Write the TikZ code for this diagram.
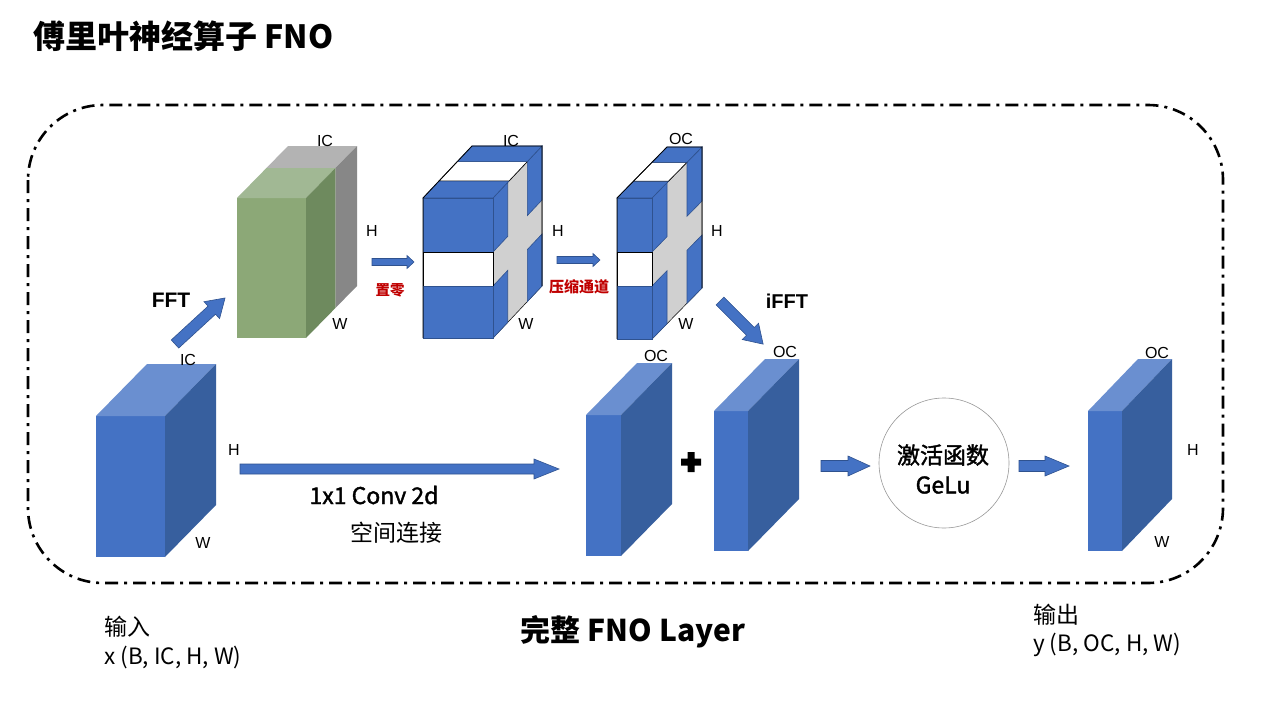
\documentclass[tikz,border=0pt]{standalone}
\usepackage{fontspec}
\setmainfont{Liberation Sans}
\newfontfamily\cjk{Noto Sans CJK SC}
\newfontfamily\cjkmed[FakeBold=1.6]{Noto Sans CJK SC}
\definecolor{bfront}{HTML}{4472C4}
\definecolor{btop}{HTML}{6A8FD0}
\definecolor{bside}{HTML}{375F9E}
\definecolor{bline}{HTML}{2F528F}
\definecolor{gfront}{HTML}{8CA877}
\definecolor{gtop}{HTML}{A1B894}
\definecolor{gside}{HTML}{6E8A5E}
\definecolor{greytop}{HTML}{B3B3B3}
\definecolor{greyside}{HTML}{878787}
\definecolor{crossgrey}{HTML}{D0D0D0}
\definecolor{redlab}{HTML}{C00000}
\tikzset{
  bblk/.style={fill=bfront,draw=bline,line width=0.6pt},
  wblk/.style={fill=white,draw=black,line width=0.6pt},
  gblk/.style={fill=crossgrey,draw=black,line width=0.5pt},
  arrowstyle/.style={fill=bfront,draw=bline,line width=0.6pt},
  dimlab/.style={font=\fontsize{16}{16}\selectfont,inner sep=0pt},
  redtag/.style={font=\cjk\bfseries\fontsize{14.5}{14.5}\selectfont,text=redlab,inner sep=0pt},
  opname/.style={font=\bfseries\fontsize{21}{21}\selectfont,inner sep=0pt},
  cjktext/.style={font=\cjk\fontsize{23}{23}\selectfont,inner sep=0pt},
  dimtext/.style={font=\cjk\fontsize{22.5}{22.5}\selectfont,inner sep=0pt},
}
% parallelogram on the side face: x1 dx dy t1 t2 ya yb style
\newcommand\sidepar[8]{%
  \filldraw[#8] ({#1+#4*#2},{#6+#4*#3}) -- ({#1+#5*#2},{#6+#5*#3}) --
    ({#1+#5*#2},{#7+#5*#3}) -- ({#1+#4*#2},{#7+#4*#3}) -- cycle;}
% parallelogram on the top face: x0 x1 y0 dx dy t1 t2 style
\newcommand\toppar[8]{%
  \filldraw[#8] ({#1+#6*#4},{#3+#6*#5}) -- ({#2+#6*#4},{#3+#6*#5}) --
    ({#2+#7*#4},{#3+#7*#5}) -- ({#1+#7*#4},{#3+#7*#5}) -- cycle;}
% solid blue cube: x0 ytop x1 ybot dx dy
\newcommand\solidcube[6]{%
  \fill[bfront] (#1,#2) rectangle (#3,#4);
  \fill[btop] (#1,#2) -- (#3,#2) -- ({#3+#5},{#2+#6}) -- ({#1+#5},{#2+#6}) -- cycle;
  \fill[bside] (#3,#2) -- ({#3+#5},{#2+#6}) -- ({#3+#5},{#4+#6}) -- (#3,#4) -- cycle;}
% cube with zeroed cross: x0 ytop x1 ybot dx dy gaptop gapbot
\newcommand\crosscube[8]{%
  \sidepar{#3}{#5}{#6}{0}{1}{#2}{#4}{gblk}
  \sidepar{#3}{#5}{#6}{0}{0.3}{#2}{#7}{bblk}
  \sidepar{#3}{#5}{#6}{0}{0.3}{#8}{#4}{bblk}
  \sidepar{#3}{#5}{#6}{0.7}{1}{#2}{#7}{bblk}
  \sidepar{#3}{#5}{#6}{0.7}{1}{#8}{#4}{bblk}
  \toppar{#1}{#3}{#2}{#5}{#6}{0}{0.33}{bblk}
  \toppar{#1}{#3}{#2}{#5}{#6}{0.33}{0.7}{wblk}
  \toppar{#1}{#3}{#2}{#5}{#6}{0.7}{1}{bblk}
  \filldraw[bblk] (#1,#2) rectangle (#3,#7);
  \filldraw[wblk] (#1,#7) rectangle (#3,#8);
  \filldraw[bblk] (#1,#8) rectangle (#3,#4);
  \draw[black,line width=0.8pt] (#1,#4) -- (#1,#2) -- ({#1+#5},{#2+#6}) --
    ({#3+#5},{#2+#6}) -- ({#3+#5},{#4+#6});}
% block arrow: x y (tail centre) angle length shafthalf headhalf headlength
\newcommand\blockarrow[7]{%
  \begin{scope}[shift={(#1,#2)},rotate=#3]
    \filldraw[arrowstyle] (0,-#5) -- ({#4-#7},-#5) -- ({#4-#7},-#6) -- (#4,0) --
      ({#4-#7},#6) -- ({#4-#7},#5) -- (0,#5) -- cycle;
  \end{scope}}
\begin{document}
\begin{tikzpicture}[x=1pt,y=-1pt]
\useasboundingbox (0,0) rectangle (1280,720);
\fill[white] (0,0) rectangle (1280,720);

% title
\node[anchor=west,inner sep=0pt,font=\cjk\bfseries\fontsize{32}{32}\selectfont] (title) at (33,36) {傅里叶神经算子 FNO};

% dash-dot frame
\draw[line width=2.6pt,dash pattern=on 13pt off 6pt on 3pt off 6pt,rounded corners=75pt]
  (28,105) rectangle (1223,583);

% input cube
\solidcube{96}{416}{165}{557}{51}{-52}
\node[dimlab] (ic1) at (188,360) {IC};
\node[dimlab] (h1) at (234,450) {H};
\node[dimlab] (w1) at (203,543) {W};

% FFT arrow
\blockarrow{175}{344}{42.6}{68}{5.5}{11.5}{18}
\node[opname] (fft) at (171,300) {FFT};

% spectrum cube (green / grey)
\fill[gfront] (237,198) rectangle (306,338);
\toppar{237}{306}{198}{51}{-52}{0}{0.58}{fill=gtop,draw=none}
\toppar{237}{306}{198}{51}{-52}{0.58}{1}{fill=greytop,draw=none}
\sidepar{306}{51}{-52}{0}{0.58}{198}{338}{fill=gside,draw=none}
\sidepar{306}{51}{-52}{0.58}{1}{198}{338}{fill=greyside,draw=none}
\node[dimlab] (ic2) at (325,141) {IC};
\node[dimlab] (h2) at (372,231) {H};
\node[dimlab] (w2) at (340,324) {W};

% zeroing arrow
\blockarrow{372}{262}{0}{42}{3.5}{6.5}{7}
\node[redtag] (zero) at (390,290) {置零};

% zeroed cube
\crosscube{423}{198}{493}{338}{49}{-52}{252}{286}
\node[dimlab] (ic3) at (511,141) {IC};
\node[dimlab] (h3) at (558,231) {H};
\node[dimlab] (w3) at (526,324) {W};

% compress arrow
\blockarrow{557}{260}{0}{43}{3.5}{6.5}{7}
\node[redtag,font=\cjk\bfseries\fontsize{15}{15}\selectfont] (compress) at (579,287) {压缩通道};

% compressed cube
\crosscube{617}{198}{652}{339}{50}{-51}{252}{286}
\node[dimlab] (oc3) at (681,139) {OC};
\node[dimlab] (h4) at (717,231) {H};
\node[dimlab] (w4) at (686,324) {W};

% iFFT arrow
\blockarrow{720}{301}{-45}{61}{5.5}{11.5}{18}
\node[opname,font=\bfseries\fontsize{20}{20}\selectfont] (ifft) at (787,301) {iFFT};

% 1x1 conv arrow
\blockarrow{240}{469}{0}{319}{5}{10}{25}
\node[font=\cjkmed\fontsize{23}{23}\selectfont,inner sep=0pt] (conv) at (374,495) {1x1 Conv 2d};
\node[cjktext] (skip) at (396,533) {空间连接};

% conv output cube
\solidcube{586}{415}{621}{556}{51}{-52}
\node[dimlab] (oc4) at (656,356) {OC};

% plus
\coordinate (plus) at (691,462);
\fill[black] ([shift={(-3.5,-10)}]plus) -- ++(7,0) -- ++(0,6.5) -- ++(6.5,0) -- ++(0,7) -- ++(-6.5,0)
  -- ++(0,6.5) -- ++(-7,0) -- ++(0,-6.5) -- ++(-6.5,0) -- ++(0,-7) -- ++(6.5,0) -- cycle;

% spectral output cube
\solidcube{714}{411}{748}{551}{51}{-52}
\node[dimlab] (oc5) at (785,352) {OC};

% activation
\blockarrow{821}{466}{0}{49}{5.5}{10}{22}
\node[circle,draw=gray!80,line width=0.6pt,minimum size=130pt,inner sep=0pt] (act) at (944,463) {};
\node[font=\cjkmed\fontsize{23}{23}\selectfont,inner sep=0pt] (actname) at (943,455) {激活函数};
\node[font=\cjkmed\fontsize{23}{23}\selectfont,inner sep=0pt] (gelu) at (943,485) {GeLu};
\blockarrow{1019}{466}{0}{50}{5.5}{10}{24}

% output cube
\solidcube{1088}{411}{1122}{551}{50}{-52}
\node[dimlab] (oc6) at (1157,353) {OC};
\node[dimlab] (h6) at (1193,450) {H};
\node[dimlab] (w6) at (1162,542) {W};

% bottom captions
\node[cjktext,anchor=west] (inlab) at (104,627) {输入};
\node[dimtext,anchor=west] (inshape) at (104,657) {x (B, IC, H, W)};
\node[font=\cjk\bfseries\fontsize{30}{30}\selectfont,inner sep=0pt] (layer) at (633,632) {完整 FNO Layer};
\node[cjktext,anchor=west] (outlab) at (1033,615) {输出};
\node[dimtext,anchor=west] (outshape) at (1033,645) {y (B, OC, H, W)};
\end{tikzpicture}
\end{document}
